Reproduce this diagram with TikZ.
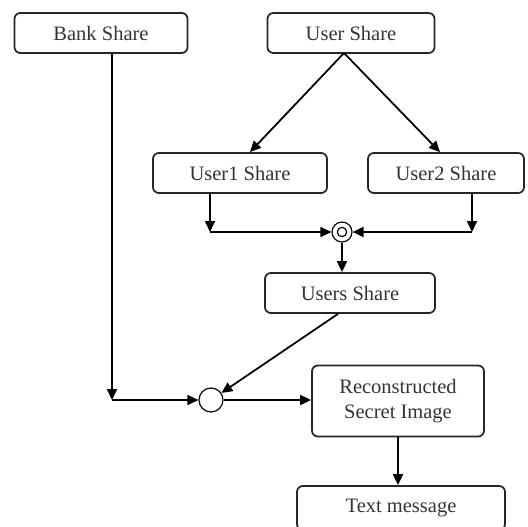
\documentclass[tikz,border=0pt]{standalone}
\usepackage{fontspec}
\setmainfont{Liberation Serif}
\usetikzlibrary{arrows.meta}

\tikzset{
  sharebox/.style={draw=black!85, rounded corners=5pt, line width=1.5pt, inner sep=0pt,
    minimum height=1.2cm, align=center, text=black!80,
    font=\fontsize{17.5}{21}\selectfont},
  arr/.style={line width=1.5pt, -{Triangle[length=3.3mm,width=3mm]}},
  knot/.style={draw, circle, line width=1pt, inner sep=0pt}
}

\begin{document}
\begin{tikzpicture}[x=0.03cm, y=-0.03cm]
  \useasboundingbox (0,0) rectangle (528,526);
  % boxes of the shares
  \node[sharebox, minimum width=5.19cm] (bank) at (101,33) {Bank Share};
  \node[sharebox, minimum width=5.01cm] (user) at (351,33) {User Share};
  \node[sharebox, minimum width=5.22cm] (userA) at (240,173) {User1 Share};
  \node[sharebox, minimum width=4.68cm] (userB) at (446,173) {User2 Share};
  \node[sharebox, minimum width=5.1cm] (users) at (350,293) {Users Share};
  \node[sharebox, minimum width=5.16cm, minimum height=2.13cm] (recon) at (398,401) {Reconstructed\\Secret Image};
  \node[sharebox, minimum width=6.24cm, minimum height=1.32cm] (msg) at (401,508) {Text message};
  % joining points
  \node[knot, minimum size=0.6cm] (join) at (342,232) {};
  \draw[line width=1pt] (join) circle (0.14cm);
  \node[knot, minimum size=0.72cm] (merge) at (211,400) {};
  \coordinate (fork) at (344,53);
  \coordinate (cA) at (210,232);
  \coordinate (cB) at (472,232);
  \coordinate (cBank) at (112,400);

  % User Share splits in two
  \draw[arr] (fork) -- ([xshift=0.3cm]userA.north);
  \draw[arr] (fork) -- ([xshift=-0.18cm]userB.north);
  % both user shares meet
  \draw[arr] ([xshift=-0.9cm]userA.south) -- (cA);
  \draw[arr] (cA) -- (join.west);
  \draw[arr] ([xshift=0.78cm]userB.south) -- (cB);
  \draw[arr] (cB) -- (join.east);
  \draw[arr] (join.south) -- (users.north -| join);
  % bank share and users share
  \draw[arr] (bank.south -| cBank) -- (cBank);
  \draw[arr] (cBank) -- (merge.west);
  \draw[arr] ([xshift=-0.36cm]users.south) -- (merge);
  \draw[arr] (merge.east) -- (recon.west |- merge);
  \draw[arr] (recon.south) -- (recon.south |- msg.north);
\end{tikzpicture}
\end{document}
